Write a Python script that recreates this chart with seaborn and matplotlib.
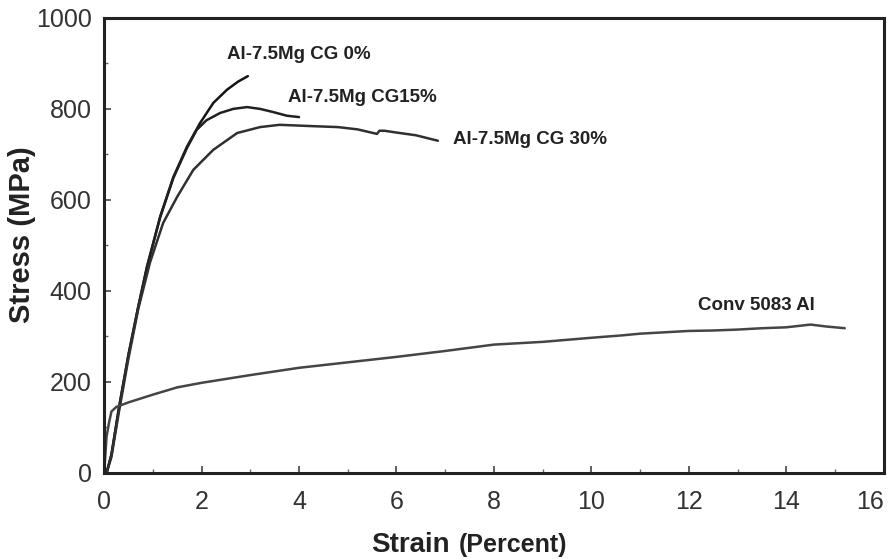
import numpy as np
import pandas as pd
import matplotlib
matplotlib.use("Agg")
import matplotlib.pyplot as plt
from matplotlib.ticker import MultipleLocator
import seaborn as sns

# ---- data ----
cg0_strain = [0.05, 0.15, 0.3, 0.5, 0.7, 0.88, 1.15, 1.42, 1.70, 1.97, 2.24, 2.52, 2.75, 2.95]
cg0_stress = [0, 40, 140, 260, 365, 453, 563, 650, 717, 769, 813, 842, 860, 872]

cg15_strain = [0.05, 0.15, 0.3, 0.5, 0.7, 0.88, 1.15, 1.42, 1.70, 1.9, 2.1, 2.38, 2.65, 2.93, 3.2, 3.47, 3.75, 4.0]
cg15_stress = [0, 40, 140, 260, 365, 453, 562, 648, 714, 754, 775, 791, 800, 804, 800, 793, 785, 782]

cg30_strain = [0.05, 0.15, 0.3, 0.5, 0.7, 0.94, 1.21, 1.5, 1.83, 2.24, 2.73, 3.2, 3.6, 4.3, 4.8, 5.2, 5.6, 5.65, 5.75, 6.0, 6.4, 6.85]
cg30_stress = [0, 35, 132, 252, 360, 462, 549, 607, 666, 710, 747, 760, 765, 762, 760, 755, 745, 752, 752, 748, 742, 730]

conv_strain = [0.0, 0.05, 0.1, 0.15, 0.25, 0.5, 1.0, 1.5, 2.0, 3.0, 4.0, 5.0, 6.0, 7.0, 8.0, 9.0, 10.0, 10.6, 11.0, 12.0, 12.5, 13.0, 13.5, 14.0, 14.5, 14.8, 15.2]
conv_stress = [0, 80, 110, 135, 145, 155, 172, 188, 198, 215, 231, 243, 255, 268, 282, 288, 297, 302, 306, 312, 313, 315, 318, 320, 326, 322, 318]

series_names = ["Al-7.5Mg CG 0%", "Al-7.5Mg CG15%", "Al-7.5Mg CG 30%", "Conv 5083 Al"]
x_ticks = [0, 2, 4, 6, 8, 10, 12, 14, 16]
y_ticks = [0, 200, 400, 600, 800, 1000]

frames = []
for name, xs, ys in zip(series_names,
                        [cg0_strain, cg15_strain, cg30_strain, conv_strain],
                        [cg0_stress, cg15_stress, cg30_stress, conv_stress]):
    frames.append(pd.DataFrame({"strain": xs, "stress": ys, "series": name}))
df = pd.concat(frames, ignore_index=True)

sns.set_style("ticks")
plt.rcParams["font.family"] = ["Liberation Sans", "DejaVu Sans"]

fig = plt.figure(figsize=(8.9, 5.59), dpi=100)
ax = fig.add_axes([0.117, 0.154, 0.876, 0.814])

palette = {
    "Al-7.5Mg CG 0%": "#151515",
    "Al-7.5Mg CG15%": "#202020",
    "Al-7.5Mg CG 30%": "#303030",
    "Conv 5083 Al": "#454545",
}
sns.lineplot(data=df, x="strain", y="stress", hue="series", palette=palette,
             estimator=None, sort=False, linewidth=1.8, legend=False, ax=ax)

ax.set_xlim(0, 16)
ax.set_ylim(0, 1000)
ax.set_xticks(x_ticks)
ax.set_xticklabels([str(t) for t in x_ticks])
ax.set_yticks(y_ticks)
ax.xaxis.set_minor_locator(MultipleLocator(1))
ax.yaxis.set_minor_locator(MultipleLocator(100))
ax.tick_params(which="major", direction="in", length=5, width=1.2, color="#444",
               labelsize=18, labelcolor="#333")
ax.tick_params(which="minor", direction="in", length=3, width=1.0, color="#666")
ax.tick_params(axis="x", which="major", pad=12)
ax.tick_params(axis="y", which="major", pad=9)
ax.get_xticklabels()[-1].set_horizontalalignment("right")
for s in ax.spines.values():
    s.set_visible(True)
    s.set_linewidth(2.2)
    s.set_color("#222")

ax.set_xlabel("")
ax.set_ylabel("Stress (MPa)", fontsize=21, fontweight="bold", color="#222")
ax.yaxis.set_label_coords(-0.087, 0.523)

fig.text(0.505, 0.013, "Strain", fontsize=20, fontweight="bold", color="#222",
         ha="right", va="baseline")
fig.text(0.515, 0.013, "(Percent)", fontsize=18, fontweight="bold", color="#222",
         ha="left", va="baseline")

label_pos = {
    "Al-7.5Mg CG 0%": (2.52, 919),
    "Al-7.5Mg CG15%": (3.77, 826),
    "Al-7.5Mg CG 30%": (7.16, 732),
    "Conv 5083 Al": (12.18, 369),
}
for name in series_names:
    x, y = label_pos[name]
    ax.text(x, y, name, fontsize=13.5, fontweight="bold", color="#222",
            ha="left", va="center")

fig.savefig("out.png", dpi=100)
